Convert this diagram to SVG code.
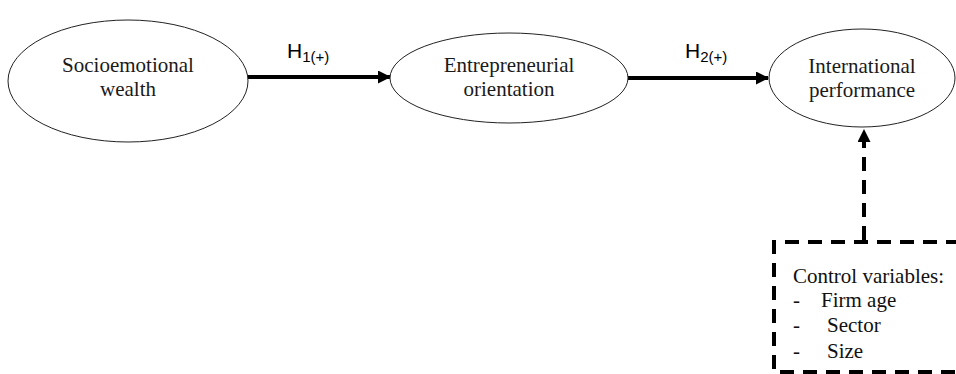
<svg xmlns="http://www.w3.org/2000/svg" width="956" height="374" viewBox="0 0 956 374">
<defs>
<marker id="ah" markerWidth="13" markerHeight="13" refX="12" refY="6.5" orient="auto" markerUnits="userSpaceOnUse" viewBox="0 0 13 13">
<path d="M0,0 L13,6.5 L0,13 Z" fill="#000"/>
</marker>
</defs>
<style>
.node ellipse{fill:#fff;stroke:#222;stroke-width:1}
.lbl{font-family:"Liberation Serif","Times New Roman",serif;font-size:21px;fill:#1a1a1a;text-anchor:middle}
.h{font-family:"Liberation Sans",Arial,sans-serif;font-size:21px;fill:#000}
.ctl{font-family:"Liberation Serif","Times New Roman",serif;font-size:21px;fill:#111}
.solid{stroke:#000;stroke-width:4;fill:none}
.dash{stroke:#000;stroke-width:4;fill:none;stroke-dasharray:14,9}
</style>
<rect width="956" height="374" fill="#fff"/>
<g id="connectors">
<line class="solid" x1="248" y1="77" x2="390" y2="77" marker-end="url(#ah)"/>
<line class="solid" x1="628" y1="78" x2="768" y2="78" marker-end="url(#ah)"/>
<path class="dash" d="M864,240 L864,130" marker-end="url(#ah)"/>
<text class="h" x="287" y="58">H<tspan font-size="15" dy="4">1(+)</tspan></text>
<text class="h" x="685" y="58">H<tspan font-size="15" dy="4">2(+)</tspan></text>
</g>
<g id="node-sew" class="node">
<ellipse cx="128" cy="81" rx="120" ry="61"/>
<text class="lbl" x="128" y="72">Socioemotional</text>
<text class="lbl" x="128" y="96">wealth</text>
</g>
<g id="node-eo" class="node">
<ellipse cx="509" cy="78" rx="119" ry="45"/>
<text class="lbl" x="509" y="72">Entrepreneurial</text>
<text class="lbl" x="509" y="96">orientation</text>
</g>
<g id="node-ip" class="node">
<ellipse cx="862" cy="78" rx="93" ry="49"/>
<text class="lbl" x="862" y="73">International</text>
<text class="lbl" x="862" y="97">performance</text>
</g>
<g id="node-controls">
<path class="dash" d="M960,242 L774,242 L774,372 L960,372"/>
<text class="ctl" x="793" y="283">Control variables:</text>
<text class="ctl" x="793" y="307">-</text>
<text class="ctl" x="821" y="307">Firm age</text>
<text class="ctl" x="793" y="332">-</text>
<text class="ctl" x="827" y="332">Sector</text>
<text class="ctl" x="793" y="358">-</text>
<text class="ctl" x="827" y="358">Size</text>
</g>
</svg>
